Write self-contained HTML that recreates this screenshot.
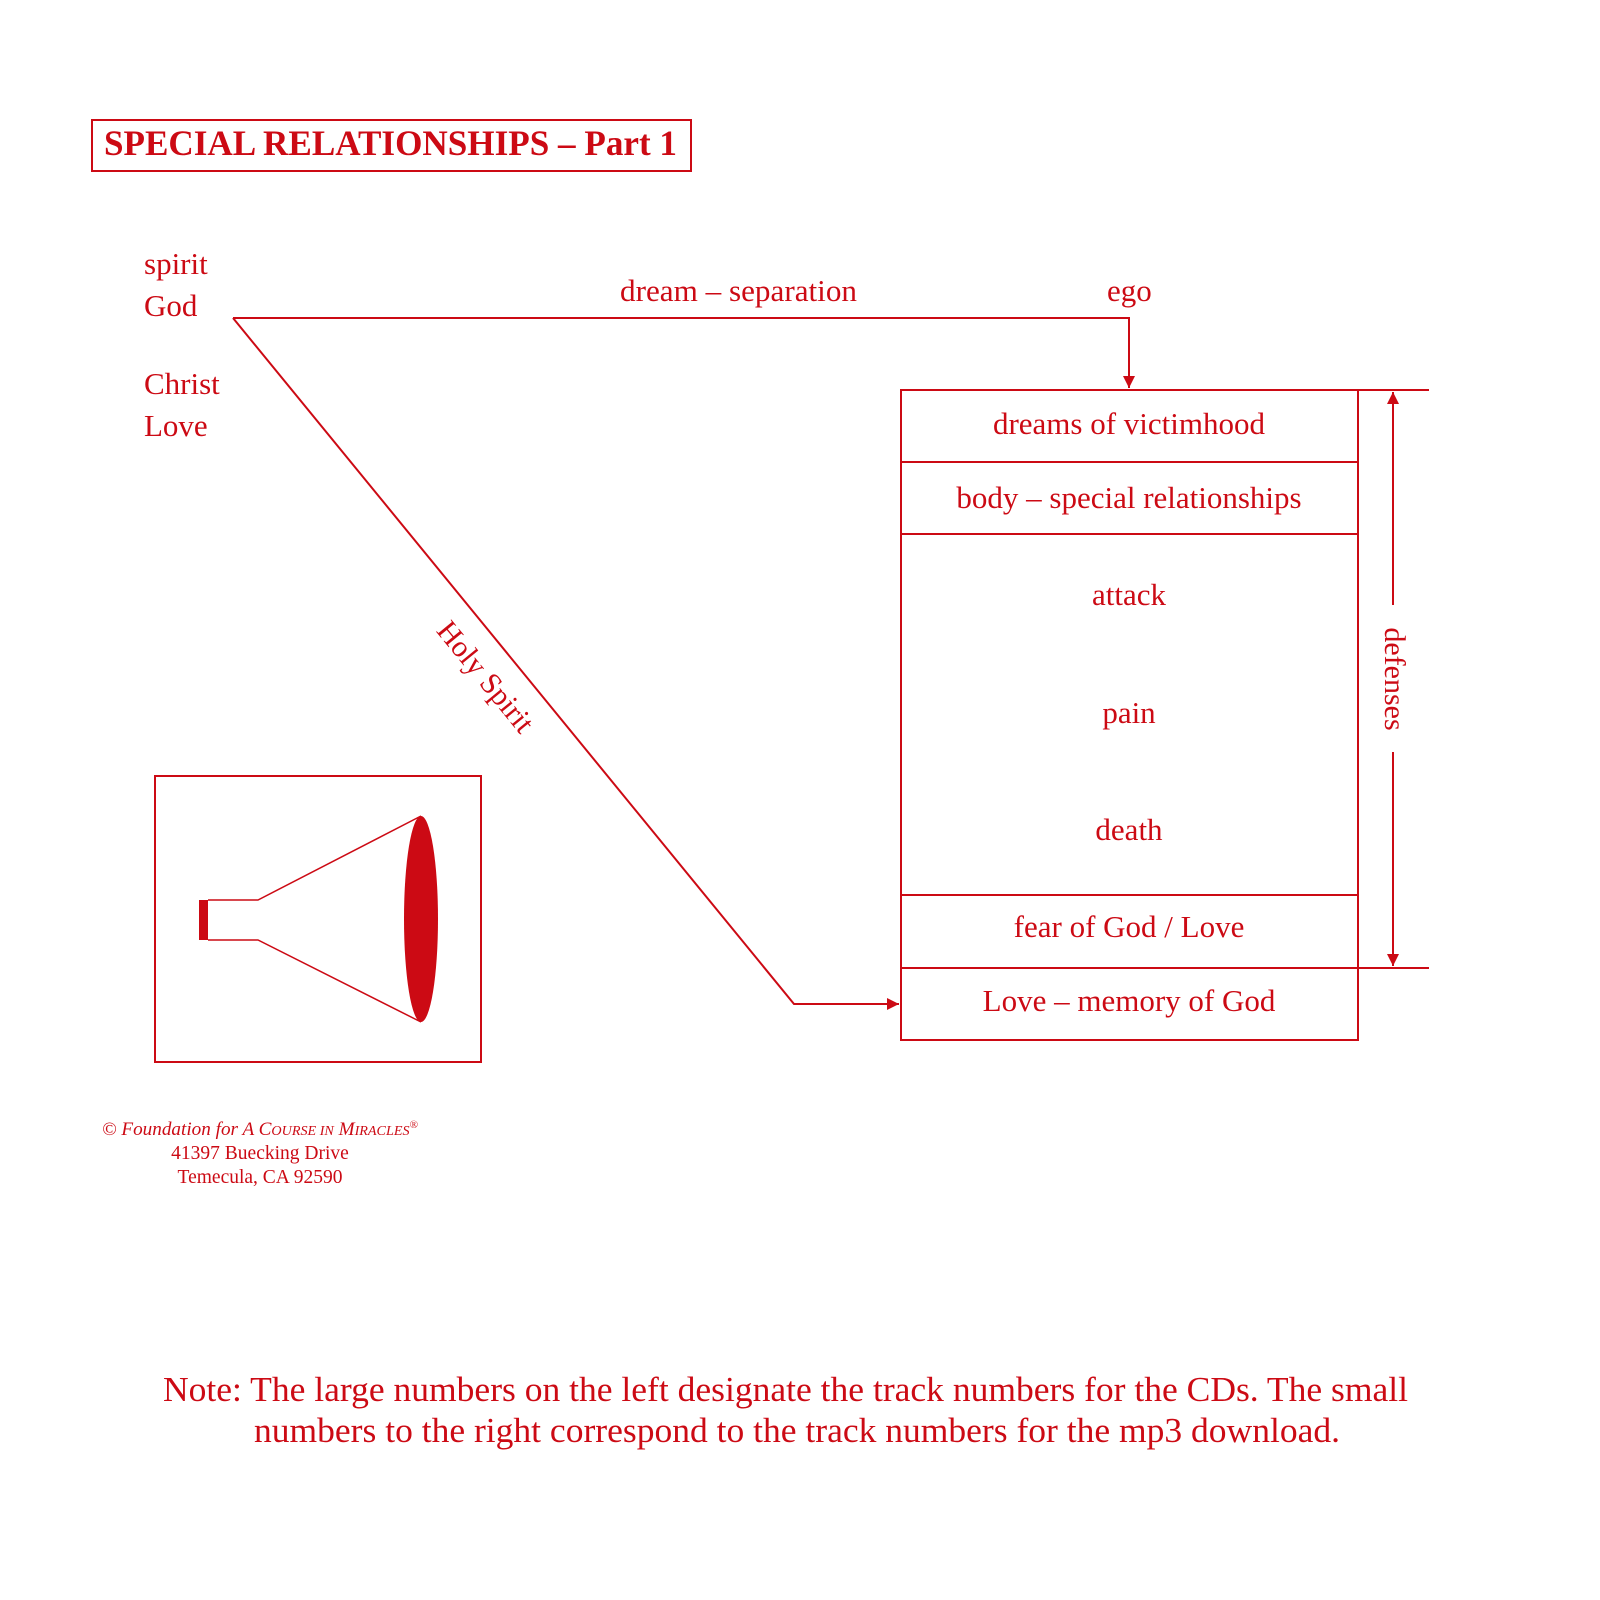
<!DOCTYPE html>
<html><head><meta charset="utf-8"><style>
html,body{margin:0;padding:0;background:#fff;}
svg{display:block;}
text{font-family:"Liberation Serif",serif;fill:#cc0a14;}
</style></head><body>
<svg width="1600" height="1600" viewBox="0 0 1600 1600" xmlns="http://www.w3.org/2000/svg">
<defs>
<marker id="ah" viewBox="0 0 10 10" refX="10" refY="5" markerWidth="12" markerHeight="12" markerUnits="userSpaceOnUse" orient="auto">
<path d="M0,0 L10,5 L0,10 z" fill="#cc0a14"/></marker>
</defs>
<g stroke="#cc0a14" stroke-width="2" fill="none">
<rect x="92" y="120" width="599" height="51"/>
<polyline points="233,318 1129,318 1129,388" marker-end="url(#ah)"/>
<polyline points="233,318 794,1004 899,1004" marker-end="url(#ah)"/>
<rect x="901" y="390" width="457" height="650"/>
<line x1="901" y1="462" x2="1358" y2="462"/>
<line x1="901" y1="534" x2="1358" y2="534"/>
<line x1="901" y1="895" x2="1358" y2="895"/>
<line x1="901" y1="968" x2="1429" y2="968"/>
<line x1="1358" y1="390" x2="1429" y2="390"/>
<line x1="1393" y1="605" x2="1393" y2="392" marker-end="url(#ah)"/>
<line x1="1393" y1="752" x2="1393" y2="966" marker-end="url(#ah)"/>
<rect x="155" y="776" width="326" height="286"/>
<polyline points="208,900 258,900 421,816" stroke-width="1.5"/>
<polyline points="208,940 258,940 421,1022" stroke-width="1.5"/>
</g>
<rect x="199" y="900" width="9" height="40" fill="#cc0a14"/>
<ellipse cx="421" cy="919" rx="17" ry="103" fill="#cc0a14"/>

<text x="104" y="155" font-size="36" font-weight="bold" textLength="573" lengthAdjust="spacingAndGlyphs">SPECIAL RELATIONSHIPS – Part 1</text>

<g font-size="31">
<text x="144" y="274">spirit</text>
<text x="144" y="316">God</text>
<text x="144" y="394">Christ</text>
<text x="144" y="436">Love</text>
<text x="620" y="301" textLength="237" lengthAdjust="spacingAndGlyphs">dream – separation</text>
<text x="1107" y="301">ego</text>
</g>
<g font-size="31" text-anchor="middle">
<text x="1129" y="434">dreams of victimhood</text>
<text x="1129" y="508">body – special relationships</text>
<text x="1129" y="605">attack</text>
<text x="1129" y="723">pain</text>
<text x="1129" y="840">death</text>
<text x="1129" y="937">fear of God / Love</text>
<text x="1129" y="1011">Love – memory of God</text>
</g>
<text font-size="30" text-anchor="middle" transform="translate(1385,679) rotate(90)">defenses</text>
<text font-size="30" text-anchor="middle" transform="translate(478,683) rotate(50.7)">Holy Spirit</text>

<text x="102" y="1135" font-size="19" font-style="italic" textLength="316" lengthAdjust="spacingAndGlyphs">© Foundation for A C<tspan font-size="14">OURSE IN</tspan> M<tspan font-size="14">IRACLES</tspan><tspan font-size="11" dy="-7" font-style="normal">®</tspan></text>
<text x="260" y="1159" font-size="19.5" text-anchor="middle">41397 Buecking Drive</text>
<text x="260" y="1183" font-size="19.5" text-anchor="middle">Temecula, CA 92590</text>

<text x="163" y="1401" font-size="35" textLength="1245" lengthAdjust="spacingAndGlyphs">Note: The large numbers on the left designate the track numbers for the CDs. The small</text>
<text x="254" y="1442" font-size="35" textLength="1086" lengthAdjust="spacingAndGlyphs">numbers to the right correspond to the track numbers for the mp3 download.</text>
</svg>
</body></html>
